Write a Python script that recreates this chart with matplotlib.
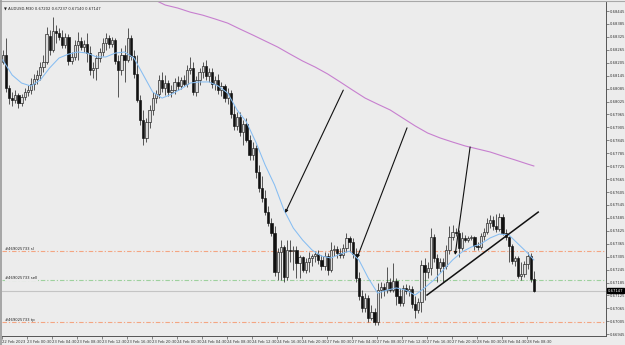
import numpy as np
import matplotlib.pyplot as plt
from matplotlib.transforms import blended_transform_factory
from matplotlib.lines import Line2D

# --- chart header ---
title_text = "AUDUSD,M30 0.67202 0.67237 0.67140 0.67147"
last_price = 0.67147

# --- M30 candles (bar 0 = 22 Feb 20:30) ---
opens = [
    0.68209, 0.68241, 0.68088, 0.68041, 0.68032, 0.68055, 0.68018, 0.68046, 0.68069, 0.68078,
    0.68106, 0.68129, 0.68148, 0.68186, 0.68209, 0.68329, 0.68264, 0.68352, 0.68343, 0.68325,
    0.68287, 0.68325, 0.68213, 0.68232, 0.68287, 0.68305, 0.68278, 0.68291, 0.68250, 0.68171,
    0.68181, 0.68227, 0.68255, 0.68296, 0.68320, 0.68291, 0.68310, 0.68213, 0.68171, 0.68241,
    0.68218, 0.68320, 0.68236, 0.68152, 0.68032, 0.67939, 0.67856, 0.67930, 0.67986, 0.68041,
    0.68059, 0.68125, 0.68088, 0.68111, 0.68069, 0.68078, 0.68116, 0.68097, 0.68125, 0.68106,
    0.68171, 0.68181, 0.68069, 0.68125, 0.68162, 0.68190, 0.68143, 0.68162, 0.68106, 0.68125,
    0.68078, 0.68097, 0.68041, 0.68064, 0.67967, 0.67911, 0.67954, 0.67884, 0.67920, 0.67846,
    0.67777, 0.67809, 0.67698, 0.67624, 0.67577, 0.67513, 0.67461, 0.67415, 0.67234, 0.67327,
    0.67350, 0.67211, 0.67336, 0.67331, 0.67336, 0.67276, 0.67304, 0.67243, 0.67281, 0.67299,
    0.67308, 0.67317, 0.67290, 0.67262, 0.67308, 0.67243, 0.67336, 0.67340, 0.67322, 0.67313,
    0.67345, 0.67392, 0.67373, 0.67317, 0.67206, 0.67122, 0.67067, 0.67113, 0.67021, 0.67049,
    0.67002, 0.67150, 0.67165, 0.67150, 0.67188, 0.67150, 0.67192, 0.67122, 0.67090, 0.67160,
    0.67146, 0.67155, 0.67085, 0.67058, 0.67095, 0.67266, 0.67234, 0.67252, 0.67396, 0.67299,
    0.67252, 0.67281, 0.67262, 0.67336, 0.67396, 0.67420, 0.67415, 0.67345, 0.67392, 0.67382,
    0.67392, 0.67396, 0.67354, 0.67350, 0.67401, 0.67420, 0.67461, 0.67475, 0.67447, 0.67433,
    0.67489, 0.67415, 0.67396, 0.67354, 0.67285, 0.67299, 0.67215, 0.67225, 0.67271, 0.67308,
    0.67202,
]
highs = [
    0.68264, 0.68320, 0.68102, 0.68069, 0.68078, 0.68064, 0.68059, 0.68088, 0.68102, 0.68134,
    0.68152, 0.68171, 0.68209, 0.68241, 0.68371, 0.68357, 0.68418, 0.68380, 0.68366, 0.68357,
    0.68343, 0.68338, 0.68255, 0.68310, 0.68348, 0.68325, 0.68310, 0.68343, 0.68282, 0.68209,
    0.68241, 0.68273, 0.68320, 0.68343, 0.68334, 0.68325, 0.68320, 0.68241, 0.68273, 0.68287,
    0.68366, 0.68334, 0.68264, 0.68241, 0.68055, 0.67986, 0.67949, 0.68009, 0.68069, 0.68078,
    0.68148, 0.68162, 0.68148, 0.68125, 0.68102, 0.68134, 0.68143, 0.68139, 0.68148, 0.68194,
    0.68232, 0.68209, 0.68143, 0.68181, 0.68209, 0.68218, 0.68181, 0.68181, 0.68143, 0.68152,
    0.68116, 0.68106, 0.68088, 0.68078, 0.68009, 0.67977, 0.67977, 0.67939, 0.67949, 0.67870,
    0.67837, 0.67823, 0.67730, 0.67679, 0.67614, 0.67540, 0.67485, 0.67447, 0.67345, 0.67382,
    0.67359, 0.67382, 0.67382, 0.67354, 0.67354, 0.67313, 0.67308, 0.67299, 0.67327, 0.67317,
    0.67331, 0.67336, 0.67313, 0.67327, 0.67322, 0.67373, 0.67359, 0.67354, 0.67345, 0.67364,
    0.67415, 0.67401, 0.67392, 0.67345, 0.67234, 0.67150, 0.67136, 0.67127, 0.67081, 0.67067,
    0.67183, 0.67188, 0.67183, 0.67258, 0.67206, 0.67276, 0.67206, 0.67160, 0.67174, 0.67179,
    0.67174, 0.67169, 0.67122, 0.67113, 0.67290, 0.67299, 0.67281, 0.67438, 0.67410, 0.67317,
    0.67299, 0.67299, 0.67359, 0.67447, 0.67452, 0.67438, 0.67429, 0.67420, 0.67406, 0.67401,
    0.67406, 0.67401, 0.67373, 0.67415, 0.67438, 0.67485, 0.67498, 0.67494, 0.67503, 0.67508,
    0.67503, 0.67433, 0.67401, 0.67364, 0.67308, 0.67308, 0.67281, 0.67285, 0.67327, 0.67322,
    0.67237,
]
lows = [
    0.68199, 0.68069, 0.68013, 0.68004, 0.68018, 0.67995, 0.68004, 0.68032, 0.68050, 0.68059,
    0.68078, 0.68106, 0.68125, 0.68162, 0.68199, 0.68241, 0.68255, 0.68296, 0.68310, 0.68273,
    0.68273, 0.68195, 0.68199, 0.68218, 0.68218, 0.68264, 0.68255, 0.68209, 0.68148, 0.68134,
    0.68125, 0.68209, 0.68236, 0.68264, 0.68273, 0.68278, 0.68199, 0.68046, 0.68148, 0.68116,
    0.68209, 0.68218, 0.68134, 0.68023, 0.67916, 0.67823, 0.67837, 0.67902, 0.67963, 0.68018,
    0.68041, 0.68069, 0.68055, 0.68050, 0.68046, 0.68059, 0.68078, 0.68083, 0.68097, 0.68093,
    0.68152, 0.68055, 0.68050, 0.68102, 0.68134, 0.68125, 0.68116, 0.68088, 0.68078, 0.68059,
    0.68050, 0.68023, 0.68013, 0.67949, 0.67893, 0.67893, 0.67865, 0.67823, 0.67837, 0.67754,
    0.67754, 0.67670, 0.67605, 0.67559, 0.67498, 0.67447, 0.67401, 0.67215, 0.67197, 0.67197,
    0.67188, 0.67197, 0.67281, 0.67243, 0.67206, 0.67206, 0.67234, 0.67229, 0.67234, 0.67262,
    0.67281, 0.67271, 0.67243, 0.67243, 0.67220, 0.67234, 0.67308, 0.67299, 0.67299, 0.67299,
    0.67327, 0.67327, 0.67299, 0.67188, 0.67104, 0.67049, 0.67049, 0.67002, 0.67011, 0.66988,
    0.66988, 0.67113, 0.67122, 0.67136, 0.67141, 0.67141, 0.67081, 0.67076, 0.67076, 0.67132,
    0.67122, 0.67067, 0.67021, 0.67044, 0.67049, 0.67104, 0.67206, 0.67220, 0.67281, 0.67188,
    0.67234, 0.67188, 0.67248, 0.67317, 0.67382, 0.67401, 0.67304, 0.67336, 0.67373, 0.67373,
    0.67382, 0.67336, 0.67336, 0.67340, 0.67382, 0.67410, 0.67438, 0.67429, 0.67420, 0.67424,
    0.67406, 0.67382, 0.67281, 0.67271, 0.67262, 0.67206, 0.67197, 0.67211, 0.67248, 0.67188,
    0.67140,
]
closes = [
    0.68241, 0.68088, 0.68041, 0.68032, 0.68055, 0.68018, 0.68046, 0.68069, 0.68078, 0.68106,
    0.68129, 0.68148, 0.68186, 0.68209, 0.68338, 0.68264, 0.68352, 0.68343, 0.68325, 0.68287,
    0.68325, 0.68213, 0.68232, 0.68287, 0.68305, 0.68278, 0.68291, 0.68250, 0.68171, 0.68181,
    0.68227, 0.68255, 0.68296, 0.68320, 0.68291, 0.68310, 0.68213, 0.68171, 0.68241, 0.68218,
    0.68320, 0.68236, 0.68152, 0.68032, 0.67939, 0.67856, 0.67930, 0.67986, 0.68041, 0.68059,
    0.68125, 0.68088, 0.68111, 0.68069, 0.68078, 0.68116, 0.68097, 0.68125, 0.68106, 0.68171,
    0.68181, 0.68069, 0.68125, 0.68162, 0.68190, 0.68143, 0.68162, 0.68106, 0.68125, 0.68078,
    0.68097, 0.68041, 0.68064, 0.67967, 0.67911, 0.67954, 0.67884, 0.67920, 0.67846, 0.67777,
    0.67809, 0.67698, 0.67624, 0.67577, 0.67513, 0.67461, 0.67415, 0.67234, 0.67327, 0.67350,
    0.67211, 0.67336, 0.67331, 0.67336, 0.67276, 0.67304, 0.67243, 0.67281, 0.67299, 0.67308,
    0.67317, 0.67290, 0.67262, 0.67308, 0.67243, 0.67336, 0.67340, 0.67322, 0.67313, 0.67345,
    0.67392, 0.67373, 0.67317, 0.67206, 0.67122, 0.67067, 0.67113, 0.67021, 0.67049, 0.67002,
    0.67150, 0.67165, 0.67150, 0.67188, 0.67150, 0.67192, 0.67122, 0.67090, 0.67160, 0.67146,
    0.67155, 0.67085, 0.67058, 0.67095, 0.67266, 0.67234, 0.67252, 0.67396, 0.67299, 0.67252,
    0.67281, 0.67262, 0.67336, 0.67396, 0.67420, 0.67415, 0.67345, 0.67392, 0.67382, 0.67392,
    0.67396, 0.67354, 0.67350, 0.67401, 0.67420, 0.67461, 0.67475, 0.67447, 0.67433, 0.67489,
    0.67415, 0.67396, 0.67354, 0.67285, 0.67299, 0.67215, 0.67225, 0.67271, 0.67308, 0.67202,
    0.67147,
]

# --- moving averages, read at sample bars ---
fast_ma_bar = [0, 3, 6, 9, 12, 15, 18, 21, 24, 27, 30, 33, 36, 39, 42, 45, 48, 51, 54, 57,
               60, 63, 66, 69, 72, 75, 78, 81, 84, 87, 90, 93, 96, 99, 102, 105, 108, 111,
               114, 117, 120, 123, 126, 129, 132, 135, 138, 141, 144, 147, 150, 153, 156,
               159, 162, 165, 168, 170]
fast_ma = [0.68218, 0.68148, 0.68111, 0.68097, 0.68125, 0.68181, 0.68227, 0.68245, 0.68255,
           0.68250, 0.68232, 0.68232, 0.68250, 0.68255, 0.68227, 0.68148, 0.68069, 0.68041,
           0.68059, 0.68083, 0.68111, 0.68116, 0.68116, 0.68097, 0.68064, 0.67986, 0.67930,
           0.67837, 0.67730, 0.67638, 0.67522, 0.67438, 0.67382, 0.67336, 0.67308, 0.67299,
           0.67317, 0.67331, 0.67290, 0.67206, 0.67136, 0.67150, 0.67160, 0.67150, 0.67127,
           0.67160, 0.67197, 0.67243, 0.67290, 0.67327, 0.67350, 0.67364, 0.67392, 0.67410,
           0.67406, 0.67364, 0.67322, 0.67290]

slow_ma_bar = [48, 52, 56, 60, 64, 68, 72, 76, 80, 84, 88, 92, 96, 100, 104, 108, 112, 116,
               120, 124, 128, 132, 136, 140, 144, 148, 152, 156, 160, 164, 168, 170]
slow_ma = [0.68501, 0.68473, 0.68459, 0.68440, 0.68426, 0.68408, 0.68389, 0.68361, 0.68334,
           0.68306, 0.68278, 0.68245, 0.68213, 0.68185, 0.68153, 0.68116, 0.68078, 0.68041,
           0.68013, 0.67986, 0.67949, 0.67912, 0.67879, 0.67856, 0.67837, 0.67819, 0.67805,
           0.67791, 0.67772, 0.67754, 0.67735, 0.67726]

# --- order levels ---
order_names = ["#469025733 sl", "#469025733 sell", "#469025733 tp"]
order_prices = [0.67330, 0.67195, 0.67000]
order_colors = ["#f4a582", "#9ed19e", "#f4a582"]

# --- drawn objects: (bar, price) start -> end ---
arrow_start = [(109.0, 0.68078), (129.4, 0.67903), (149.6, 0.67814)]
arrow_end = [(90.4, 0.67508), (113.4, 0.67299), (144.8, 0.67313)]
trend_start = (135.8, 0.67127)
trend_end = (171.4, 0.67512)

# --- axis labels ---
price_ticks = [0.68445, 0.68385, 0.68325, 0.68265, 0.68205, 0.68145, 0.68085, 0.68025,
               0.67965, 0.67905, 0.67845, 0.67785, 0.67725, 0.67665, 0.67605, 0.67545,
               0.67485, 0.67425, 0.67365, 0.67305, 0.67245, 0.67185, 0.67125, 0.67065,
               0.67005, 0.66945]
time_labels = ["22 Feb 2023", "23 Feb 00:30", "23 Feb 04:30", "23 Feb 08:30", "23 Feb 12:30",
               "23 Feb 16:30", "23 Feb 20:30", "24 Feb 00:30", "24 Feb 04:30", "24 Feb 08:30",
               "24 Feb 12:30", "24 Feb 16:30", "24 Feb 20:30", "27 Feb 00:30", "27 Feb 04:30",
               "27 Feb 08:30", "27 Feb 12:30", "27 Feb 16:30", "27 Feb 20:30", "28 Feb 00:30",
               "28 Feb 04:30", "28 Feb 08:30"]

BG = "#ececec"
FS = 2.7
plt.rcParams["lines.scale_dashes"] = False

fig = plt.figure(figsize=(6.25, 3.45), dpi=100, facecolor=BG)
ax = fig.add_axes([2 / 625, 9 / 345, 604 / 625, 334 / 345], facecolor=BG)

o = np.array(opens)
h = np.array(highs)
l = np.array(lows)
c = np.array(closes)
x = np.arange(len(c))
up = c >= o

# order / bid lines behind the candles
for name, price, col in zip(order_names, order_prices, order_colors):
    ax.axhline(price, color=col, lw=0.8, linestyle=(0, (3.2, 1.4, 0.9, 1.4)), zorder=1)
    ax.text(0.8, price, name, fontsize=FS, color="#222", va="bottom", ha="left",
            zorder=6, bbox=dict(facecolor=BG, edgecolor="none", pad=0.2) if "sell" in name else None)
ax.axhline(last_price, color="#c4c4c4", lw=0.8, zorder=1)

# candles
ax.vlines(x, l, h, color="#1a1a1a", lw=0.5, zorder=2)
body_lo = np.minimum(o, c)
body_h = np.abs(c - o)
ax.bar(x[up], body_h[up], bottom=body_lo[up], width=0.72, color="#dcdcdc",
       edgecolor="#1a1a1a", linewidth=0.45, zorder=3)
ax.bar(x[~up], body_h[~up], bottom=body_lo[~up], width=0.72, color="#111111",
       edgecolor="#111111", linewidth=0.45, zorder=3)

# moving averages
ax.plot(fast_ma_bar, fast_ma, color="#86bdf2", lw=0.75, zorder=4)
ax.plot(slow_ma_bar, slow_ma, color="#c77fcf", lw=0.8, zorder=4)

# arrows and trendline
for s, e in zip(arrow_start, arrow_end):
    ax.annotate("", xy=e, xytext=s,
                arrowprops=dict(arrowstyle="-|>", color="#111", lw=0.8,
                                mutation_scale=4, shrinkA=0, shrinkB=0), zorder=5)
ax.plot([trend_start[0], trend_end[0]], [trend_start[1], trend_end[1]],
        color="#111", lw=1.1, zorder=5)

ax.set_xlim(-0.16, 193.1)
ax.set_ylim(0.66937, 0.68487)

# right price scale
ax.yaxis.tick_right()
ax.set_yticks(price_ticks)
ax.set_yticklabels([f"{p:.5f}" for p in price_ticks])
ax.tick_params(axis="y", length=2, width=0.4, pad=1, labelsize=FS, colors="#333")

# time scale
ax.set_xticks(np.arange(0, 8 * len(time_labels), 8) - 0.25)
ax.set_xticklabels(time_labels, ha="left")
ax.tick_params(axis="x", length=2, width=0.4, pad=0.8, labelsize=FS, colors="#333")

for side in ["top", "left"]:
    ax.spines[side].set_visible(False)
for side in ["right", "bottom"]:
    ax.spines[side].set_color("#555")
    ax.spines[side].set_linewidth(0.7)

# current bid box
tr = blended_transform_factory(ax.transAxes, ax.transData)
ax.text(1.003, last_price, f"{last_price:.5f}", transform=tr, fontsize=FS, color="white",
        va="center", ha="left", clip_on=False, zorder=7,
        bbox=dict(facecolor="black", edgecolor="black", pad=0.5))

# header
ax.text(0.004, 0.988, "\u25bc " + title_text, transform=ax.transAxes, fontsize=FS,
        color="#222", va="top", ha="left")

# window border
fig.add_artist(Line2D([0, 1], [1 - 0.5 / 345, 1 - 0.5 / 345], transform=fig.transFigure,
                      color="#a8a8a8", lw=0.8))
fig.add_artist(Line2D([1 / 625, 1 / 625], [0, 1], transform=fig.transFigure,
                      color="#9a9a9a", lw=1.2))

fig.savefig("out.png", dpi=100, facecolor=BG)
